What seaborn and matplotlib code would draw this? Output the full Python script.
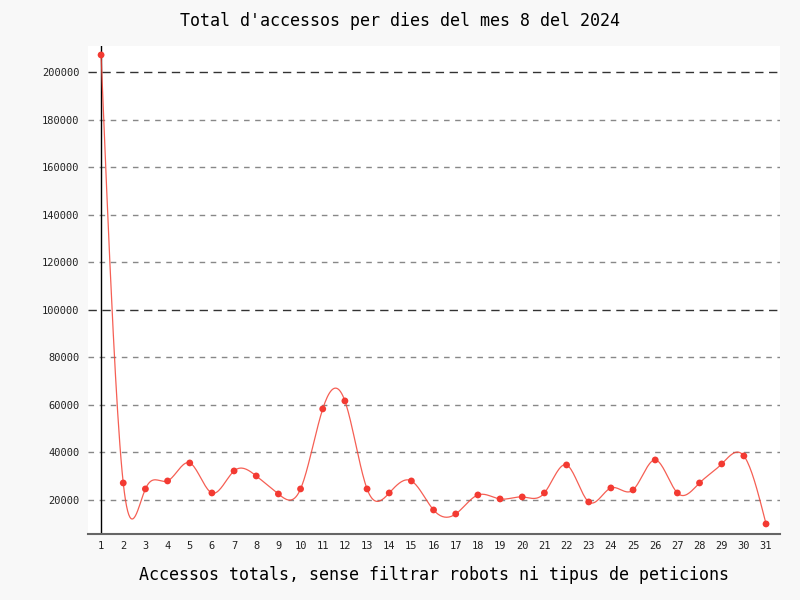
import numpy as np
import pandas as pd
import seaborn as sns
import matplotlib.pyplot as plt

# Daily totals, August 2024
days = list(range(1, 32))
accessos = [207150, 27170, 24650, 28010, 35580, 22960, 32220, 30110, 22540, 24650,
            58300, 61660, 24650, 22960, 28010, 15810, 14130, 22120, 20440, 21280,
            22960, 34740, 19180, 25070, 24230, 36840, 22960, 27170, 35160, 38530,
            9930]

df = pd.DataFrame({"dia": days, "accessos": accessos})


def natural_spline(x, y, n=20):
    # natural cubic spline through the points, just for drawing a smooth line
    x = np.asarray(x, float)
    y = np.asarray(y, float)
    k = len(x)
    h = np.diff(x)
    A = np.zeros((k, k))
    r = np.zeros(k)
    A[0, 0] = A[-1, -1] = 1
    for i in range(1, k - 1):
        A[i, i - 1] = h[i - 1]
        A[i, i] = 2 * (h[i - 1] + h[i])
        A[i, i + 1] = h[i]
        r[i] = 3 * ((y[i + 1] - y[i]) / h[i] - (y[i] - y[i - 1]) / h[i - 1])
    c = np.linalg.solve(A, r)
    xs, ys = [], []
    for i in range(k - 1):
        b = (y[i + 1] - y[i]) / h[i] - h[i] * (2 * c[i] + c[i + 1]) / 3
        d = (c[i + 1] - c[i]) / (3 * h[i])
        t = np.linspace(0, h[i], n, endpoint=(i == k - 2))
        xs.append(x[i] + t)
        ys.append(y[i] + b * t + c[i] * t ** 2 + d * t ** 3)
    return np.concatenate(xs), np.concatenate(ys)


sx, sy = natural_spline(df["dia"], df["accessos"])
smooth = pd.DataFrame({"dia": sx, "accessos": sy})

plt.rcParams["font.family"] = "DejaVu Sans Mono"
fig = plt.figure(figsize=(8, 6), dpi=100, facecolor="#f8f8f8")
ax = fig.add_axes([0.11, 0.11, 0.865, 0.8133])
ax.set_facecolor("white")

# grid lines
for v in range(20000, 220000, 20000):
    if v % 100000 == 0:
        ax.axhline(v, color="#333333", lw=1, ls=(0, (6, 4)), zorder=1)
    else:
        ax.axhline(v, color="#888888", lw=1, ls=(0, (4, 4)), zorder=1)
ax.axvline(1, color="black", lw=1, zorder=2)

sns.lineplot(data=smooth, x="dia", y="accessos", ax=ax, color="#f44336",
             lw=0.9, alpha=0.85, zorder=3)
sns.scatterplot(data=df, x="dia", y="accessos", ax=ax, color="#f33a32",
                s=24, edgecolor="none", zorder=4)

ax.set_xlim(0.41, 31.63)
ax.set_ylim(5700, 210900)
ax.set_xticks(days)
ax.set_yticks(range(20000, 220000, 20000))
ax.tick_params(axis="both", labelsize=7.5, length=0, colors="#222222")
ax.tick_params(axis="y", pad=6)
ax.tick_params(axis="x", pad=5)

for s in ["top", "right", "left"]:
    ax.spines[s].set_visible(False)
ax.spines["bottom"].set_color("#666666")
ax.spines["bottom"].set_linewidth(1.5)

ax.set_xlabel("")
ax.set_ylabel("")
fig.text(0.5, 0.965, "Total d'accessos per dies del mes 8 del 2024",
         ha="center", va="center", fontsize=12)
fig.text(0.542, 0.042, "Accessos totals, sense filtrar robots ni tipus de peticions",
         ha="center", va="center", fontsize=12)

fig.savefig("out.png", dpi=100, facecolor=fig.get_facecolor())
